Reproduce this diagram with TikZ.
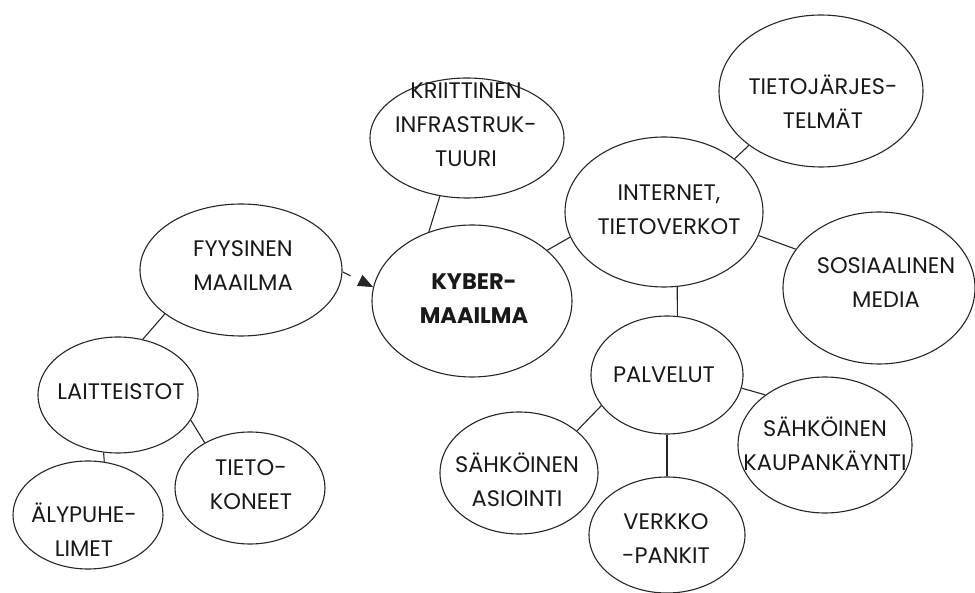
\documentclass[tikz,border=0pt]{standalone}
\usepackage{fontspec}
\setmainfont{Poppins}
\usetikzlibrary{shapes.geometric,arrows.meta}
\tikzset{
  bub/.style={draw=black!85, line width=1.1pt, ellipse, inner sep=0pt},
  lbl/.style={align=center, inner sep=0pt, font=\fontsize{22.5}{34}\selectfont, text=black!90},
  con/.style={draw=black!85, line width=1.1pt},
}
\newcommand{\bubble}[8]{%
  \node[bub, minimum width=#4pt, minimum height=#5pt] (#1) at (#2,#3) {};
  \node[lbl] (#1-t) at (#6,#7) {#8};
}
\begin{document}
\begin{tikzpicture}[x=1pt,y=-1pt]
\useasboundingbox (0,0) rectangle (975,593);
\bubble{kri}{467}{138}{194}{120}{466}{124.5}{KRIITTINEN\\INFRASTRUK-\\TUURI}
\bubble{kyb}{472}{301}{200}{152}{474}{299}{\textbf{KYBER-}\\\textbf{MAAILMA}}
\bubble{fyy}{241}{270}{202}{132}{243}{265.5}{FYYSINEN\\MAAILMA}
\bubble{int}{664}{212}{198}{150}{669}{210}{INTERNET,\\TIETOVERKOT}
\bubble{tjs}{821}{91}{204}{152}{823}{101.5}{TIETOJÄRJES-\\TELMÄT}
\bubble{sos}{879}{288}{192}{152}{886}{283}{SOSIAALINEN\\MEDIA}
\bubble{pal}{667}{375}{152}{118}{664}{375}{PALVELUT}
\bubble{ska}{825}{445}{174}{136}{825}{444}{SÄHKÖINEN\\KAUPANKÄYNTI}
\bubble{sas}{519}{473}{158}{122}{517}{480}{SÄHKÖINEN\\ASIOINTI}
\bubble{ver}{667}{535}{156}{116}{666}{539}{VERKKO\\-PANKIT}
\bubble{lai}{118}{395}{160}{116}{121}{392}{LAITTEISTOT}
\bubble{aly}{88}{515}{150}{108}{84}{530}{ÄLYPUHE-\\LIMET}
\bubble{tko}{250}{488}{150}{112}{251}{485}{TIETO-\\KONEET}
% connectors
\draw[con] (kri.245.8) -- (kyb.122.5);
\draw[con] (kyb.34.7) -- (int.195);
\draw[con] (int.37.8) -- (tjs.217.1);
\draw[con] (int.-14.9) -- (sos.155.1);
\draw[con] (int.-80) -- (pal.80.3);
\draw[con] (pal.-10.6) -- (ska.140.2);
\draw[con] (pal.205.5) -- (sas.36.2);
\draw[con] (pal.south) -- (ver.north);
\draw[con] (fyy.210.4) -- (lai.66.5);
\draw[con] (lai.256.2) -- (aly.73.2);
\draw[con] (lai.-19.7) -- (tko.135);
\draw[con, dash pattern=on 9pt off 20pt, -{Triangle[length=15pt,width=12pt]}] (fyy.-1) -- (kyb.172.6);
\end{tikzpicture}
\end{document}
